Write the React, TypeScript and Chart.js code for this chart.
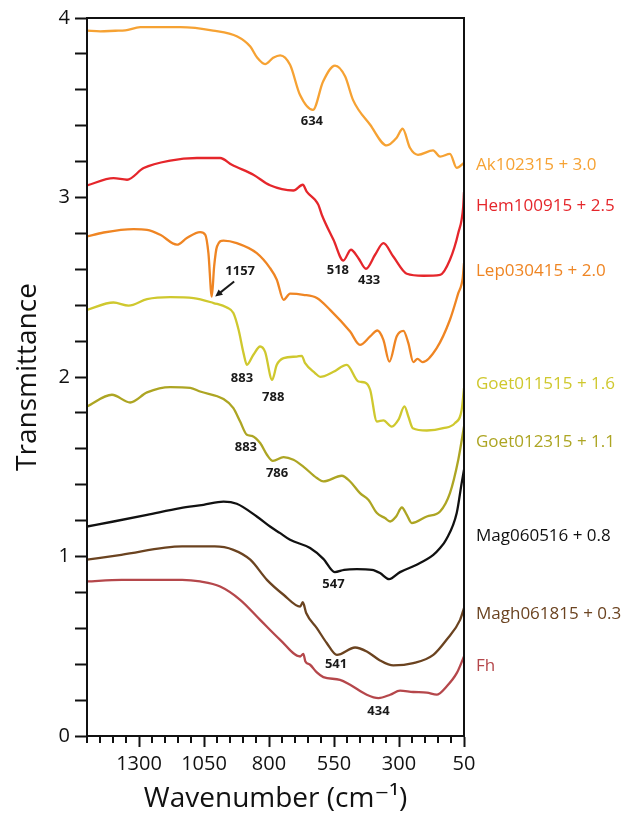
import React, { useEffect, useRef } from 'react';
import { Chart, registerables } from 'chart.js';
Chart.register(...registerables);

// ---- data (wavenumber cm-1, transmittance incl. offset) ----
const akWn = [1500, 1449, 1391, 1353, 1295, 1141, 1015, 922, 872, 845, 815, 784, 757, 719, 681, 631, 592, 546, 507, 477, 411, 347, 309, 286, 258, 227, 169, 142, 104, 78, 50];
const akVal = [3.930, 3.926, 3.929, 3.931, 3.949, 3.949, 3.930, 3.897, 3.841, 3.778, 3.743, 3.778, 3.792, 3.739, 3.572, 3.488, 3.646, 3.735, 3.674, 3.544, 3.405, 3.290, 3.333, 3.383, 3.277, 3.238, 3.262, 3.228, 3.243, 3.165, 3.193];

const hemWn = [1500, 1398, 1346, 1282, 1180, 1077, 988, 943, 860, 796, 706, 670, 655, 623, 610, 597, 552, 514, 485, 456, 427, 392, 360, 322, 270, 206, 142, 104, 72, 53, 50];
const hemVal = [3.067, 3.108, 3.099, 3.164, 3.206, 3.220, 3.220, 3.182, 3.127, 3.068, 3.039, 3.071, 3.033, 2.987, 2.959, 2.904, 2.764, 2.649, 2.709, 2.662, 2.603, 2.681, 2.746, 2.671, 2.575, 2.564, 2.569, 2.653, 2.802, 2.950, 3.030];

const lepWn = [1500, 1436, 1321, 1269, 1218, 1154, 1116, 1065, 1045, 1033, 1020, 1011, 1000, 975, 924, 847, 796, 770, 744, 719, 668, 616, 565, 488, 450, 411, 383, 360, 337, 309, 283, 264, 245, 229, 209, 155, 104, 72, 55, 50];
const lepVal = [2.783, 2.805, 2.824, 2.820, 2.792, 2.737, 2.774, 2.807, 2.792, 2.690, 2.448, 2.616, 2.727, 2.760, 2.746, 2.690, 2.607, 2.542, 2.430, 2.464, 2.458, 2.440, 2.374, 2.253, 2.179, 2.226, 2.259, 2.207, 2.086, 2.226, 2.257, 2.189, 2.083, 2.101, 2.083, 2.161, 2.319, 2.467, 2.551, 2.635];

const goet1Wn = [1500, 1398, 1340, 1269, 1180, 1090, 1013, 962, 937, 917, 898, 885, 860, 834, 815, 788, 770, 744, 693, 674, 661, 623, 603, 552, 501, 456, 430, 411, 385, 360, 328, 302, 279, 264, 247, 193, 130, 85, 59, 50];
const goet1Val = [2.374, 2.415, 2.398, 2.434, 2.445, 2.440, 2.412, 2.387, 2.356, 2.263, 2.133, 2.068, 2.124, 2.170, 2.140, 1.984, 2.068, 2.105, 2.114, 2.118, 2.077, 2.022, 2.001, 2.029, 2.068, 1.975, 1.969, 1.929, 1.752, 1.758, 1.724, 1.762, 1.836, 1.780, 1.715, 1.702, 1.715, 1.743, 1.817, 1.938];

const goet2Wn = [1500, 1404, 1334, 1269, 1180, 1103, 1065, 975, 937, 911, 885, 866, 834, 808, 785, 744, 706, 668, 616, 591, 520, 488, 450, 418, 385, 354, 334, 311, 289, 270, 251, 193, 142, 104, 72, 50];
const goet2Val = [1.836, 1.901, 1.858, 1.914, 1.944, 1.940, 1.919, 1.877, 1.827, 1.752, 1.678, 1.672, 1.632, 1.567, 1.533, 1.554, 1.539, 1.501, 1.437, 1.418, 1.450, 1.418, 1.353, 1.316, 1.242, 1.214, 1.195, 1.223, 1.273, 1.232, 1.186, 1.223, 1.251, 1.353, 1.539, 1.724];

const magWn = [1500, 1398, 1269, 1141, 1052, 975, 924, 847, 796, 757, 719, 642, 591, 547, 511, 462, 404, 373, 338, 296, 232, 168, 142, 119, 78, 59, 50];
const magVal = [1.167, 1.195, 1.232, 1.270, 1.288, 1.306, 1.294, 1.223, 1.167, 1.130, 1.093, 1.047, 0.987, 0.913, 0.926, 0.930, 0.926, 0.908, 0.874, 0.913, 0.954, 1.009, 1.047, 1.093, 1.242, 1.409, 1.483];

const maghWn = [1500, 1368, 1134, 1009, 937, 872, 808, 744, 680, 670, 657, 616, 578, 539, 469, 424, 373, 322, 245, 168, 117, 65, 50];
const maghVal = [0.982, 1.009, 1.056, 1.056, 1.037, 0.982, 0.870, 0.787, 0.721, 0.745, 0.685, 0.601, 0.518, 0.452, 0.493, 0.471, 0.421, 0.393, 0.406, 0.452, 0.536, 0.647, 0.713];

const fhWn = [1500, 1367, 1134, 1065, 988, 911, 834, 757, 680, 668, 660, 642, 616, 591, 527, 488, 424, 379, 334, 296, 245, 193, 155, 117, 78, 50];
const fhVal = [0.861, 0.870, 0.870, 0.861, 0.833, 0.759, 0.647, 0.536, 0.443, 0.458, 0.415, 0.397, 0.354, 0.328, 0.313, 0.285, 0.230, 0.211, 0.230, 0.253, 0.245, 0.242, 0.230, 0.276, 0.350, 0.443];

const seriesNames = ['Ak102315 + 3.0', 'Hem100915 + 2.5', 'Lep030415 + 2.0', 'Goet011515 + 1.6', 'Goet012315 + 1.1', 'Mag060516 + 0.8', 'Magh061815 + 0.3', 'Fh'];
const seriesColors = ['#F6A233', '#E5262B', '#EF8523', '#CFC82E', '#ADA523', '#111111', '#6B4320', '#B5474B'];
const nameLabelVal = [3.178, 2.950, 2.588, 1.962, 1.635, 1.111, 0.681, 0.387];

const peakTexts = ['634', '518', '433', '1157', '883', '788', '883', '786', '547', '541', '434'];
const peakWn = [635, 535, 415, 911, 904, 784, 889, 769, 552, 542, 379];
const peakVal = [3.427, 2.593, 2.538, 2.588, 1.990, 1.888, 1.609, 1.461, 0.846, 0.401, 0.136];
const arrowFrom = [934, 2.532];
const arrowTo = [1007, 2.448];

const xTickLabels = [1300, 1050, 800, 550, 300, 50];
const yTickLabels = [0, 1, 2, 3, 4];

const FONT = "'Open Sans', 'DejaVu Sans', sans-serif";

const series = [
  [akWn, akVal], [hemWn, hemVal], [lepWn, lepVal], [goet1Wn, goet1Val],
  [goet2Wn, goet2Val], [magWn, magVal], [maghWn, maghVal], [fhWn, fhVal],
];

const decorPlugin = {
  id: 'decor',
  afterDatasetsDraw(chart: any) {
    const { ctx, chartArea: ca, scales } = chart;
    const x = scales.x, y = scales.y;
    ctx.save();
    ctx.strokeStyle = '#111';
    ctx.lineWidth = 2;
    ctx.strokeRect(ca.left, ca.top, ca.right - ca.left, ca.bottom - ca.top);
    // minor x ticks
    for (let v = 50; v <= 1500; v += 50) {
      if (xTickLabels.includes(v)) continue;
      const px = Math.round(x.getPixelForValue(v));
      ctx.beginPath();
      ctx.moveTo(px, ca.bottom);
      ctx.lineTo(px, ca.bottom + 7);
      ctx.stroke();
    }
    // series names
    ctx.font = `17px ${FONT}`;
    ctx.textAlign = 'left';
    ctx.textBaseline = 'middle';
    seriesNames.forEach((n, i) => {
      ctx.fillStyle = seriesColors[i];
      ctx.fillText(n, ca.right + 12, y.getPixelForValue(nameLabelVal[i]));
    });
    // peak labels
    ctx.font = `bold 13px ${FONT}`;
    ctx.fillStyle = '#1a1a1a';
    ctx.textAlign = 'center';
    peakTexts.forEach((t, i) => {
      ctx.fillText(t, x.getPixelForValue(peakWn[i]), y.getPixelForValue(peakVal[i]));
    });
    // arrow
    const x1 = x.getPixelForValue(arrowFrom[0]), y1 = y.getPixelForValue(arrowFrom[1]);
    const x2 = x.getPixelForValue(arrowTo[0]), y2 = y.getPixelForValue(arrowTo[1]);
    const ang = Math.atan2(y2 - y1, x2 - x1);
    const hl = 8;
    ctx.strokeStyle = '#1a1a1a';
    ctx.lineWidth = 2;
    ctx.beginPath();
    ctx.moveTo(x1, y1);
    ctx.lineTo(x2 - Math.cos(ang) * hl * 0.7, y2 - Math.sin(ang) * hl * 0.7);
    ctx.stroke();
    ctx.beginPath();
    ctx.moveTo(x2, y2);
    ctx.lineTo(x2 - hl * Math.cos(ang - 0.45), y2 - hl * Math.sin(ang - 0.45));
    ctx.lineTo(x2 - hl * Math.cos(ang + 0.45), y2 - hl * Math.sin(ang + 0.45));
    ctx.closePath();
    ctx.fillStyle = '#1a1a1a';
    ctx.fill();
    ctx.restore();
  },
};

export default function App() {
  const ref = useRef<HTMLCanvasElement>(null);
  useEffect(() => {
    if (!ref.current) return;
    const chart = new Chart(ref.current, {
      type: 'line',
      data: {
        datasets: series.map(([wn, val], i) => ({
          label: seriesNames[i],
          data: wn.map((w, k) => ({ x: w, y: val[k] })),
          borderColor: seriesColors[i],
          borderWidth: 2.3,
          pointRadius: 0,
          fill: false,
          cubicInterpolationMode: 'monotone' as const,
        })),
      },
      options: {
        animation: false,
        responsive: false,
        devicePixelRatio: 1,
        layout: { padding: { left: 0, right: 167, top: 18, bottom: 0 } },
        plugins: { legend: { display: false }, tooltip: { enabled: false } },
        events: [],
        scales: {
          x: {
            type: 'linear',
            reverse: true,
            min: 50,
            max: 1500,
            afterFit: (s: any) => { s.height = 85; },
            afterBuildTicks: (s: any) => { s.ticks = xTickLabels.map((v) => ({ value: v })); },
            ticks: { autoSkip: false, maxRotation: 0, color: '#111', font: { family: FONT, size: 20 }, padding: 5, callback: (v: any) => String(v) },
            grid: { drawOnChartArea: false, drawTicks: true, tickLength: 11, tickColor: '#111', tickWidth: 2 },
            border: { display: true, color: '#111', width: 2 },
            title: { display: true, text: 'Wavenumber (cm⁻¹)', color: '#111', font: { family: FONT, size: 28 }, padding: { top: 0, bottom: 5 } },
          },
          y: {
            type: 'linear',
            min: 0,
            max: 4,
            afterFit: (s: any) => { s.width = 87; },
            afterBuildTicks: (s: any) => {
              const t = [];
              for (let i = 0; i <= 20; i++) t.push({ value: i / 5 });
              s.ticks = t;
            },
            ticks: {
              autoSkip: false, color: '#111', font: { family: FONT, size: 20 }, padding: 5,
              callback: (v: any) => (yTickLabels.includes(v) ? String(v) : ''),
            },
            grid: { drawOnChartArea: false, drawTicks: true, tickLength: 12, tickColor: '#111', tickWidth: 2 },
            border: { display: true, color: '#111', width: 2 },
            title: { display: true, text: 'Transmittance', color: '#111', font: { family: FONT, size: 28 }, padding: { top: 11, bottom: 0 } },
          },
        },
      },
      plugins: [decorPlugin],
    });
    return () => chart.destroy();
  }, []);
  return (
    <div style={{ position: 'absolute', left: 0, top: 0, width: 631, height: 821, background: '#fff' }}>
      <canvas ref={ref} width={631} height={821} style={{ display: 'block', width: 631, height: 821 }} />
    </div>
  );
}
